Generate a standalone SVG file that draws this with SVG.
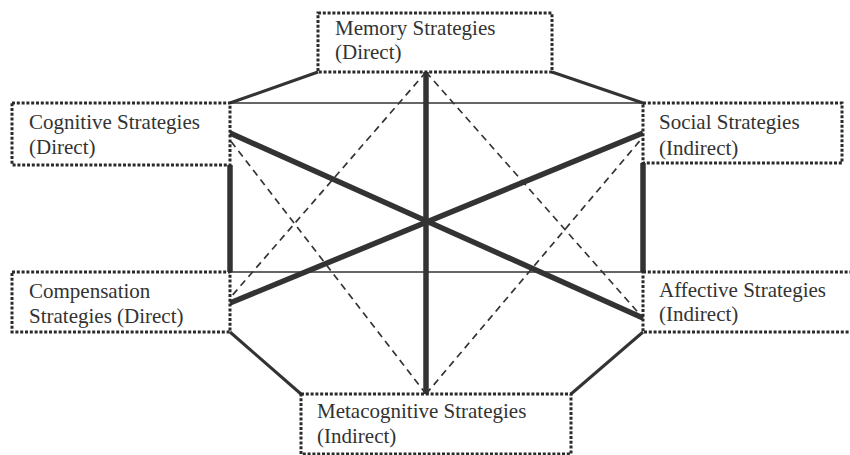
<svg xmlns="http://www.w3.org/2000/svg" width="850" height="455" viewBox="0 0 850 455">
<style>
.box{fill:none;stroke:#2a2a2a;stroke-width:3;stroke-dasharray:3 1.8}
.lbl{font-family:"Liberation Serif","Times New Roman",serif;font-size:21px;fill:#333}
.thick{stroke:#333;stroke-width:5.5;fill:none}
.edge{stroke:#333;stroke-width:3;fill:none}
.thin{stroke:#333;stroke-width:1.5;fill:none}
.dash{stroke:#333;stroke-width:1.7;stroke-dasharray:7 5;fill:none}
</style>
<rect width="850" height="455" fill="#fff"/>
<g id="connectors">
<line class="thin" x1="230" y1="103" x2="643" y2="103"/>
<line class="thin" x1="230" y1="272" x2="643" y2="272"/>
<line class="edge" x1="230" y1="103" x2="318" y2="72"/>
<line class="edge" x1="552" y1="72" x2="643" y2="103"/>
<line class="edge" x1="230" y1="332" x2="301" y2="394"/>
<line class="edge" x1="643" y1="332" x2="571" y2="394"/>
<line class="thick" x1="230" y1="165" x2="230" y2="272"/>
<line class="thick" x1="643" y1="163" x2="643" y2="272"/>
<line class="dash" x1="426" y1="72" x2="230" y2="298"/>
<line class="dash" x1="426" y1="72" x2="643" y2="318"/>
<line class="dash" x1="426" y1="394" x2="230" y2="140"/>
<line class="dash" x1="426" y1="394" x2="643" y2="137"/>
<line class="thick" x1="426" y1="72" x2="426" y2="394"/>
<line class="thick" x1="230" y1="133" x2="643" y2="318"/>
<line class="thick" x1="230" y1="303" x2="643" y2="133"/>
</g>
<g id="memory">
<rect class="box" x="318" y="13" width="234" height="59" fill="#fff"/>
<text class="lbl" x="335" y="35">Memory Strategies</text>
<text class="lbl" x="335" y="59">(Direct)</text>
</g>
<g id="cognitive">
<rect class="box" x="12" y="103" width="218" height="62"/>
<text class="lbl" x="29" y="129">Cognitive Strategies</text>
<text class="lbl" x="29" y="154">(Direct)</text>
</g>
<g id="social">
<rect class="box" x="643" y="103" width="199" height="60"/>
<text class="lbl" x="659" y="129">Social Strategies</text>
<text class="lbl" x="659" y="155">(Indirect)</text>
</g>
<g id="compensation">
<rect class="box" x="12" y="272" width="218" height="60"/>
<text class="lbl" x="29" y="298">Compensation</text>
<text class="lbl" x="29" y="323">Strategies (Direct)</text>
</g>
<g id="affective">
<rect class="box" x="643" y="272" width="212" height="60"/>
<text class="lbl" x="659" y="297">Affective Strategies</text>
<text class="lbl" x="659" y="321">(Indirect)</text>
</g>
<g id="metacognitive">
<rect class="box" x="301" y="394" width="270" height="60"/>
<text class="lbl" x="317" y="418">Metacognitive Strategies</text>
<text class="lbl" x="317" y="443">(Indirect)</text>
</g>
</svg>
